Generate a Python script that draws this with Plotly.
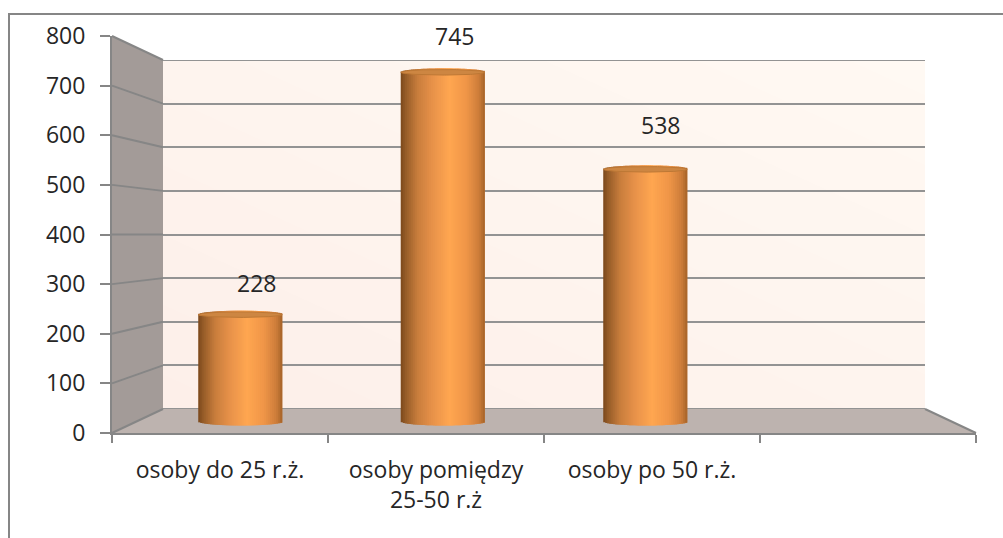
import plotly.graph_objects as go

W, H = 1003, 538
categories = ["osoby do 25 r.ż.", "osoby pomiędzy<br>25-50 r.ż", "osoby po 50 r.ż.", " "]
values = [228, 745, 538]
value_ticks = [0, 100, 200, 300, 400, 500, 600, 700, 800]
label_shift_x = [16, 12, 15]
label_shift_y = [32, 36, 44]

# Plane boxes in pixels: left, right, bottom, top
FRONT = (112, 976, 433, 36)
BACK = (163, 925, 409, 60)
# bar plane reaches 20 units below zero so that the rounded cylinder bottoms are not cut off
BELOW = 20
MID = (139, 949, 421.5 + BELOW * 375 / 800, 46.5)

def px(x): return x / W
def py(y): return 1 - y / H
def dom_x(b): return [px(b[0]), px(b[1])]
def dom_y(b): return [py(b[2]), py(b[3])]

STOPS = [(0.0, (122, 72, 28)), (0.06, (150, 92, 40)), (0.2, (200, 125, 60)), (0.38, (232, 146, 74)),
         (0.58, (255, 166, 80)), (0.78, (240, 150, 72)), (0.93, (205, 125, 58)), (1.0, (165, 98, 40))]

def strip_color(t):
    for (a, ca), (b, cb) in zip(STOPS, STOPS[1:]):
        if t <= b:
            f = (t - a) / (b - a)
            return "rgb(%d,%d,%d)" % tuple(round(p + (q - p) * f) for p, q in zip(ca, cb))
    return "rgb(%d,%d,%d)" % STOPS[-1][1]

fig = go.Figure()
AX = "#868686"
GRID = "#939393"
top = value_ticks[-1]

# back wall gradient
fig.add_trace(go.Heatmap(x=[0, 1], y=[0, 1], z=[[0, 1], [1, 2]], zsmooth="best", showscale=False, hoverinfo="skip",
                         zmin=0, zmax=2, colorscale=[[0, "#fdefe9"], [1, "#fff9f3"]], xaxis="x", yaxis="y"))
# back wall edges (plotly drops gridlines that sit on the ends of the range)
for edge in (value_ticks[0], top):
    fig.add_trace(go.Scatter(x=[0, 1], y=[edge, edge], mode="lines", line=dict(color=GRID, width=2), cliponaxis=False,
                             xaxis="x2", yaxis="y2", hoverinfo="skip"))

# cylinders, built from vertical colour strips
BAR_W = 0.415
N = 42
CAP = 8.5
idx = list(range(len(values)))
for k in range(N):
    t0 = k / N
    u = (t0 + 0.5 / N) * 2 - 1
    bulge = CAP * (1 - u * u) ** 0.5
    fig.add_trace(go.Bar(
        x=idx, y=[v + 2 * bulge for v in values], base=[-bulge] * len(values),
        offset=-BAR_W / 2 + t0 * BAR_W, width=min(2 / N, 1 - t0) * BAR_W, cliponaxis=False,
        marker=dict(color=strip_color(t0 + 0.5 / N), line=dict(width=0)),
        xaxis="x3", yaxis="y3", hoverinfo="skip"))

# top caps of the cylinders
STEPS = 48
for i, v in enumerate(values):
    xs, ys = [], []
    for s in range(STEPS + 1):
        a = s / STEPS * 2 - 1
        xs.append(i + a * BAR_W / 2)
        ys.append(v + CAP * 0.7 * (1 - a * a) ** 0.5)
    for s in range(STEPS + 1):
        a = 1 - s / STEPS * 2
        xs.append(i + a * BAR_W / 2)
        ys.append(v - CAP * 0.7 * (1 - a * a) ** 0.5)
    fig.add_trace(go.Scatter(x=xs, y=ys, mode="lines", fill="toself", fillcolor="#cd8642",
                             line=dict(color="#bd7835", width=1), xaxis="x3", yaxis="y3", hoverinfo="skip"))

# front axes: needs a trace so that the axes are drawn
fig.add_trace(go.Scatter(x=categories, y=[0] * len(categories), mode="markers", marker=dict(opacity=0),
                         xaxis="x4", yaxis="y4", hoverinfo="skip"))

# frame, side wall, floor, and their edges
shapes = [
    dict(type="rect", xref="paper", yref="paper", x0=px(9), x1=px(1100), y0=py(14), y1=py(700),
         line=dict(color="#868686", width=2), fillcolor="white", layer="below"),
    dict(type="path", xref="paper", yref="paper", layer="below", fillcolor="#a39b98", line=dict(width=0),
         path=f"M{px(112)},{py(36)} L{px(163)},{py(60)} L{px(163)},{py(409)} L{px(112)},{py(433)} Z"),
    dict(type="path", xref="paper", yref="paper", layer="below", fillcolor="#bdb3af", line=dict(width=0),
         path=f"M{px(112)},{py(433)} L{px(163)},{py(409)} L{px(925)},{py(409)} L{px(976)},{py(433)} Z"),
]
for a, b in [((925, 409), (976, 433)), ((112, 433), (163, 409))]:
    shapes.append(dict(type="line", xref="paper", yref="paper", layer="below", line=dict(color=AX, width=2),
                       x0=px(a[0]), y0=py(a[1]), x1=px(b[0]), y1=py(b[1])))
for tv in value_ticks[1:]:
    yf = FRONT[2] + (FRONT[3] - FRONT[2]) * tv / top
    yb = BACK[2] + (BACK[3] - BACK[2]) * tv / top
    shapes.append(dict(type="line", xref="paper", yref="paper", layer="below", line=dict(color=AX, width=2),
                       x0=px(112), y0=py(yf), x1=px(163), y1=py(yb)))

annotations = [
    dict(x=i, y=v, xref="x3", yref="y3", text=str(v), showarrow=False, xshift=sx, yshift=sy,
         font=dict(family="Open Sans", size=23, color="#262626"))
    for i, v, sx, sy in zip(idx, values, label_shift_x, label_shift_y)
]

hidden = dict(visible=False, showgrid=False, zeroline=False, automargin=False)
fig.update_layout(
    width=W, height=H, margin=dict(l=0, r=0, t=0, b=0, pad=0, autoexpand=False), autosize=False,
    paper_bgcolor="white", plot_bgcolor="rgba(0,0,0,0)", showlegend=False, barmode="overlay",
    shapes=shapes, annotations=annotations,
    xaxis=dict(domain=dom_x(BACK), range=[0, 1], **hidden),
    yaxis=dict(domain=dom_y(BACK), range=[0, 1], **hidden),
    xaxis2=dict(domain=dom_x(BACK), range=[0, 1], anchor="y2", **hidden),
    yaxis2=dict(domain=dom_y(BACK), range=[0, top], tickvals=value_ticks, showgrid=True, gridcolor=GRID,
                gridwidth=2, zeroline=False, showline=False, ticks="", showticklabels=False, anchor="x2"),
    xaxis3=dict(domain=dom_x(MID), range=[-0.5, 3.5], anchor="y3", **hidden),
    yaxis3=dict(domain=dom_y(MID), range=[-BELOW, top], anchor="x3", **hidden),
    xaxis4=dict(domain=dom_x(FRONT), type="category", categoryorder="array",
                categoryarray=categories, range=[-0.5, 3.5], anchor="y4", tickson="boundaries", ticks="outside",
                ticklen=8, tickwidth=2, tickcolor=AX, showline=True, linecolor=AX, linewidth=2, showgrid=False,
                zeroline=False, tickangle=0, ticklabelstandoff=15, automargin=False,
                tickfont=dict(family="Open Sans", size=23, color="#262626")),
    yaxis4=dict(domain=dom_y(FRONT), range=[0, top], tickvals=value_ticks, anchor="x4", ticks="outside", ticklen=10,
                tickwidth=2, tickcolor=AX, showline=True, linecolor=AX, linewidth=2, showgrid=False, zeroline=False,
                ticklabelstandoff=10, automargin=False, tickfont=dict(family="Open Sans", size=23, color="#262626")),
)
fig.write_html("out.html", config={"displayModeBar": False}, post_script="document.body.style.margin='0';")
